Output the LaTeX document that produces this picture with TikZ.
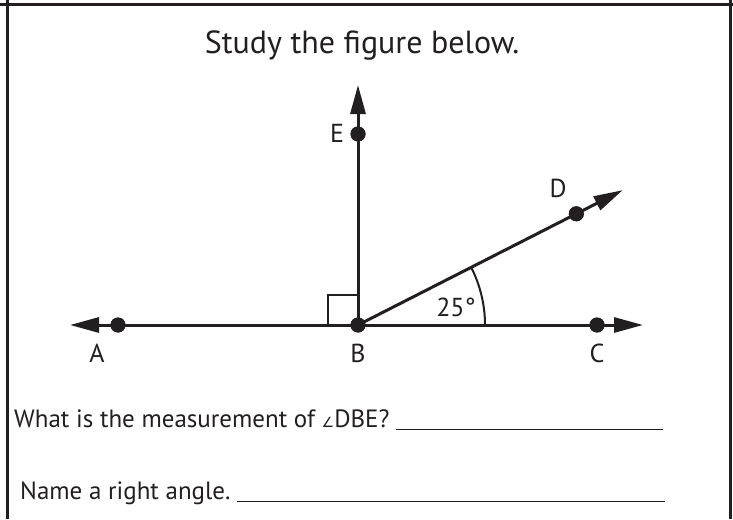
\documentclass[tikz,border=0pt]{standalone}
\usepackage{fontspec}
\setmainfont{PT Sans}
\newfontfamily\anglefont{DejaVu Sans}
\usetikzlibrary{arrows.meta}
\definecolor{SheetInk}{HTML}{231F20}
\newcommand{\answerline}{~\leaders\hrule height -1.5pt depth 2.7pt\hfill\kern0pt}

\begin{document}
\begin{tikzpicture}[x=1pt,y=-1pt,
    frame/.style={line width=3pt,SheetInk},
    ray/.style={line width=3pt,SheetInk,-{Triangle[length=29pt,width=15pt]}},
    dot/.style={circle,fill=SheetInk,inner sep=0pt,minimum size=15pt},
    ptlabel/.style={text=SheetInk,font=\fontsize{26}{26}\selectfont,inner sep=0pt},
    ask/.style={text=SheetInk,font=\fontsize{25}{25}\selectfont,inner sep=0pt,anchor=base west}]
  \useasboundingbox (0,0) rectangle (733,519);
  % sheet border
  \draw[frame] (0,5) -- (733,5);
  \draw[frame] (7,0) -- (7,519);
  \draw[frame] (730,0) -- (730,519);
  \node[text=SheetInk,font=\fontsize{32}{32}\selectfont,anchor=base] (head) at (362,53) {Study the figure below.};
  % the figure
  \coordinate (Atip) at (70,325);
  \coordinate (Ctip) at (643,325);
  \coordinate (Etip) at (358,85);
  \coordinate (Dtip) at (622.6,190.2);
  \node[dot] (B) at (358,325) {};
  \node[dot] (A) at (118,325) {};
  \node[dot] (C) at (597,325) {};
  \node[dot] (E) at (358,134) {};
  \node[dot] (D) at (576.3,213.8) {};
  \draw[ray] (B.center) -- (Atip);
  \draw[ray] (B.center) -- (Ctip);
  \draw[ray] (B.center) -- (Etip);
  \draw[ray] (B.center) -- (Dtip);
  \draw[line width=2pt,SheetInk] (328,325) -- (328,295) -- (358,295);
  \draw[line width=2pt,SheetInk] (485,325) arc[start angle=0,end angle=-27,radius=127];
  \node[dot] at (B) {};
  \node[dot] at (A) {};
  \node[dot] at (C) {};
  \node[dot] at (E) {};
  \node[dot] at (D) {};
  \node[ptlabel] (labE) at (337,133) {E};
  \node[ptlabel] (labD) at (558,188) {D};
  \node[ptlabel] (labA) at (97,353) {A};
  \node[ptlabel] (labB) at (358,353) {B};
  \node[ptlabel] (labC) at (597,353) {C};
  \node[ptlabel] (deg) at (456,307) {25°};
  % questions
  \node[ask] (q1) at (14,427) {\makebox[649pt][l]{What is the measurement of {\anglefont\fontsize{14}{14}\selectfont ∠}DBE?\answerline}};
  \node[ask] (q2) at (20,499) {\makebox[645pt][l]{Name a right angle.\answerline}};
\end{tikzpicture}
\end{document}
